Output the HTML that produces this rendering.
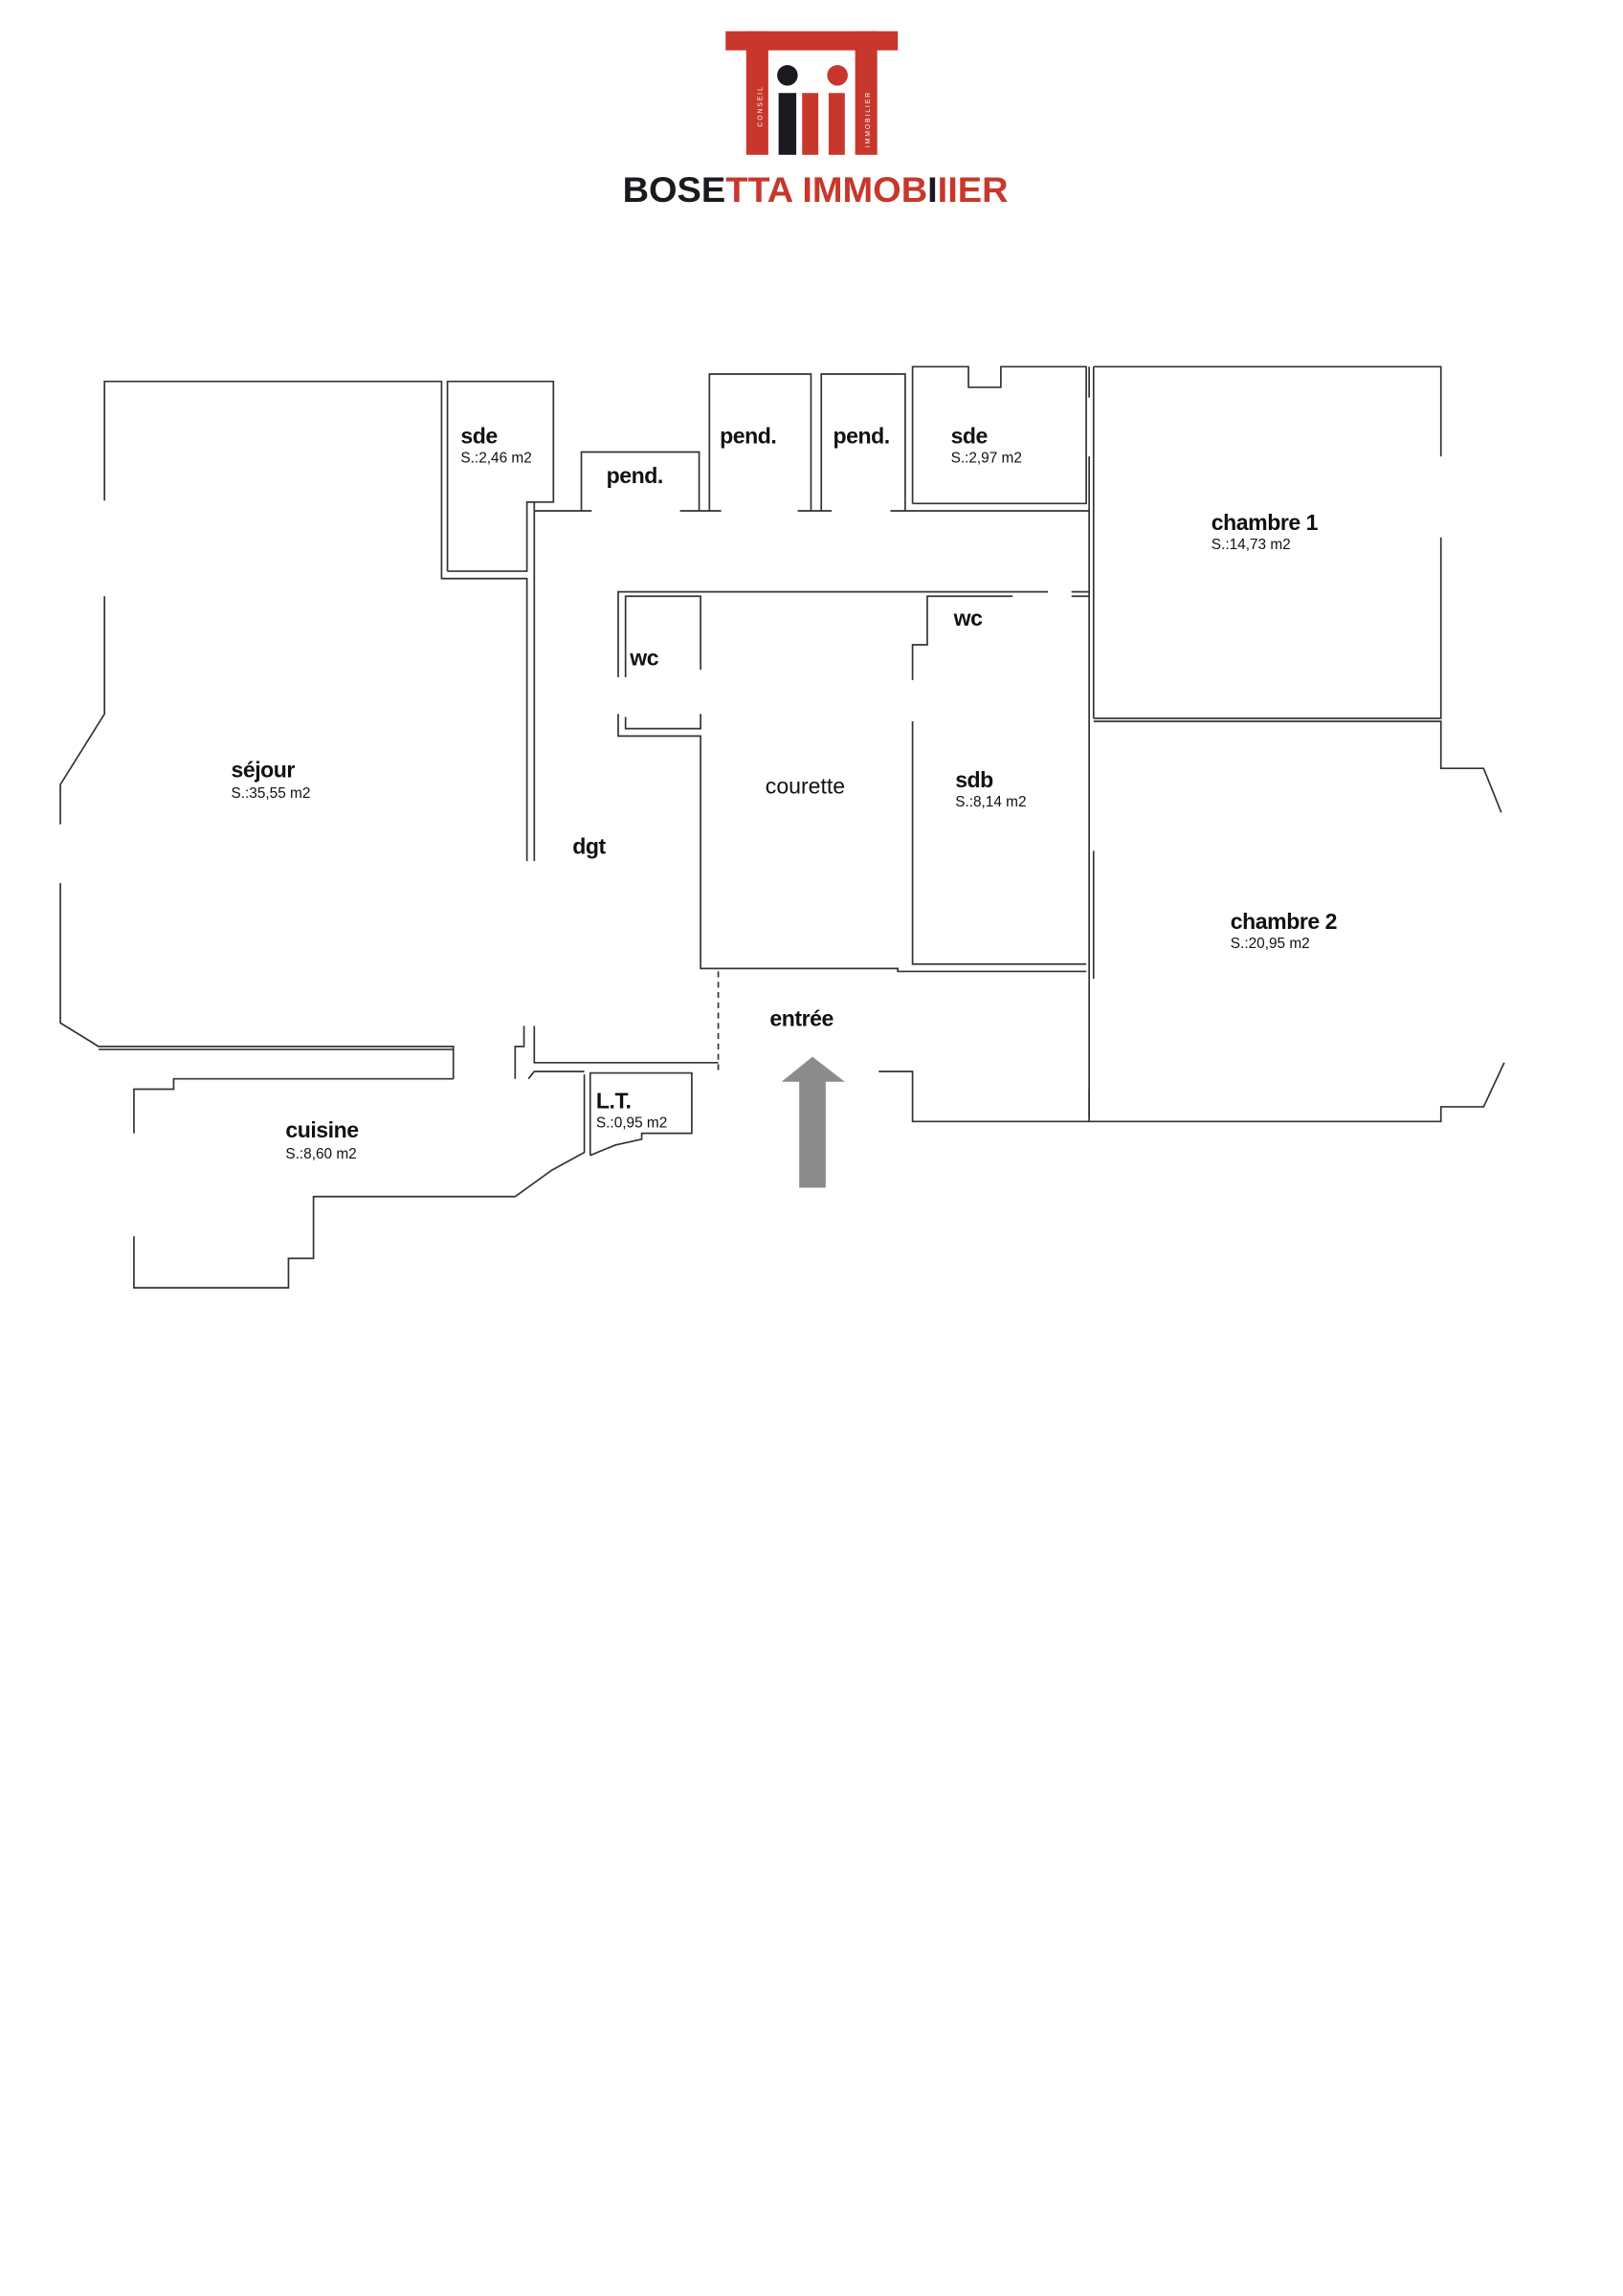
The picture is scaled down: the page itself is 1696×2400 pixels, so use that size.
<!DOCTYPE html>
<html><head><meta charset="utf-8"><style>
html,body{margin:0;padding:0;background:#fff}
svg{display:block}
text{font-family:"Liberation Sans",sans-serif;fill:#111}
.b{font-weight:bold;font-size:15px;letter-spacing:-0.3px}
.s{font-size:10px}
</style></head><body>
<svg width="1696" height="2400" viewBox="0 0 1102.7 1560" xmlns="http://www.w3.org/2000/svg">
<!-- logo -->
<g fill="#c8372b">
<rect x="493" y="21" width="117" height="13"/>
<rect x="507" y="21" width="15" height="84"/>
<rect x="581" y="21" width="15" height="84"/>
<rect x="545" y="63" width="11" height="42"/>
<rect x="563" y="63" width="11" height="42"/>
<circle cx="569" cy="51" r="7"/>
</g>
<rect x="529" y="63" width="12" height="42" fill="#1a1a1e"/>
<circle cx="535" cy="51" r="7" fill="#1a1a1e"/>
<text x="518" y="86" transform="rotate(-90 518 86)" style="font-size:4.5px;fill:#fff;letter-spacing:1.2px">CONSEIL</text>
<text x="591" y="100" transform="rotate(-90 591 100)" style="font-size:4.5px;fill:#fff;letter-spacing:1.2px">IMMOBILIER</text>
<text x="423" y="137" style="font-size:24px;font-weight:bold;fill:#1a1a1e" textLength="262" lengthAdjust="spacingAndGlyphs">BOSE<tspan style="fill:#c8372b">TTA IMMOB</tspan>I<tspan style="fill:#c8372b">IIER</tspan></text>

<g fill="none" stroke="#333" stroke-width="1.1">
<!-- séjour -->
<polyline points="71,340 71,259 300,259 300,393 358,393 358,585"/>
<polyline points="304,388 304,259 376,259 376,341 358,341 358,388 304,388"/>
<polyline points="358,341 363,341 363,347"/>
<polyline points="71,405 71,485 41,533 41,560"/>
<polyline points="41,600 41,695 67,711 308,711 308,733"/>
<line x1="67" y1="713" x2="308" y2="713"/>
<polyline points="350,733 350,711 356,711 356,697"/>
<!-- dgt -->
<polyline points="363,585 363,347 402,347"/>
<polyline points="395,347 395,307 475,307 475,347"/>
<polyline points="462,347 490,347"/>
<polyline points="482,347 482,254 551,254 551,347"/>
<polyline points="558,347 558,254 615,254 615,347"/>
<polyline points="542,347 565,347"/>
<polyline points="605,347 740,347"/>
<polyline points="620,342 620,249 658,249 658,263 680,263 680,249 738,249 738,342 620,342"/>
<line x1="740" y1="249" x2="740" y2="270"/>
<line x1="740" y1="310" x2="740" y2="760"/>
<line x1="743" y1="249" x2="743" y2="488"/>
<polyline points="743,249 979,249 979,310"/>
<polyline points="979,365 979,488 743,488"/>
<!-- inner block -->
<polyline points="420,460 420,402 712,402"/>
<polyline points="425,460 425,405 476,405 476,455"/>
<polyline points="425,487 425,495 476,495 476,485"/>
<polyline points="420,485 420,500 476,500 476,658 610,658 610,660 738,660"/>
<polyline points="620,462 620,438 630,438 630,405 688,405"/>
<polyline points="620,490 620,655 738,655"/>
<line x1="728" y1="402" x2="740" y2="402"/>
<line x1="728" y1="405" x2="740" y2="405"/>
<!-- chambre 2 -->
<polyline points="743,490 979,490 979,522 1008,522 1020,552"/>
<polyline points="1022,722 1008,752 979,752 979,762 620,762 620,728 597,728"/>
<line x1="740" y1="740" x2="740" y2="762"/>
<line x1="743" y1="578" x2="743" y2="665"/>
<!-- entrance left -->
<polyline points="363,697 363,722 488,722"/>
<polyline points="359,733 363,728 397,728"/>
<line x1="488" y1="660" x2="488" y2="728" stroke-dasharray="4,3"/>
<!-- cuisine -->
<polyline points="308,733 118,733 118,740 91,740 91,770"/>
<polyline points="91,840 91,875 196,875 196,855 213,855 213,813 350,813 375,795 397,783 397,730"/>
<polyline points="401,785 401,729 470,729 470,770 436,770 436,774 418,778 401,785"/>
</g>
<!-- arrow -->
<polygon points="531,735 552,718 574,735 561,735 561,807 543,807 543,735" fill="#8c8c8c"/>
<!-- labels -->
<text class="b" x="313" y="301">sde</text><text class="s" x="313" y="314">S.:2,46 m2</text>
<text class="b" x="412" y="328">pend.</text>
<text class="b" x="489" y="301">pend.</text>
<text class="b" x="566" y="301">pend.</text>
<text class="b" x="646" y="301">sde</text><text class="s" x="646" y="314">S.:2,97 m2</text>
<text class="b" x="823" y="360">chambre 1</text><text class="s" x="823" y="373">S.:14,73 m2</text>
<text class="b" x="428" y="452">wc</text>
<text class="b" x="648" y="425">wc</text>
<text class="b" x="157" y="528">séjour</text><text class="s" x="157" y="542">S.:35,55 m2</text>
<text x="520" y="539" style="font-size:15px">courette</text>
<text class="b" x="649" y="535">sdb</text><text class="s" x="649" y="548">S.:8,14 m2</text>
<text class="b" x="389" y="580">dgt</text>
<text class="b" x="836" y="631">chambre 2</text><text class="s" x="836" y="644">S.:20,95 m2</text>
<text class="b" x="523" y="697">entrée</text>
<text class="b" x="405" y="753">L.T.</text><text class="s" x="405" y="766">S.:0,95 m2</text>
<text class="b" x="194" y="773">cuisine</text><text class="s" x="194" y="787">S.:8,60 m2</text>
</svg>
</body></html>
